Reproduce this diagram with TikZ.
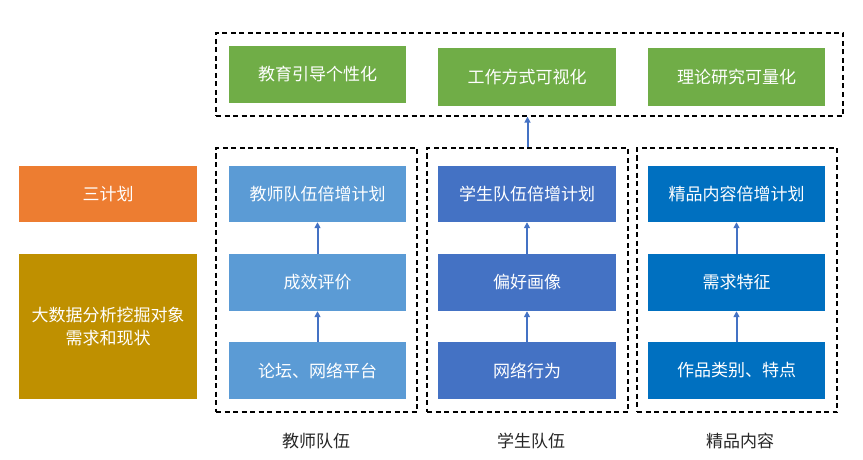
\documentclass[tikz,border=0pt]{standalone}
\usepackage{fontspec}
\setmainfont{Noto Sans CJK SC}
\usetikzlibrary{arrows.meta}
\definecolor{cgreen}{HTML}{70AD47}
\definecolor{corange}{HTML}{ED7D31}
\definecolor{cgold}{HTML}{BF9000}
\definecolor{cblueA}{HTML}{5B9BD5}
\definecolor{cblueB}{HTML}{4472C4}
\definecolor{cblueC}{HTML}{0070C0}
\definecolor{carrow}{HTML}{4472C4}
\begin{document}
\begin{tikzpicture}[x=1pt,y=-1pt,
  box/.style={rectangle, inner sep=0pt, text=white, align=center,
    font=\fontsize{17}{23}\selectfont},
  dashbox/.style={rectangle, draw=black, line width=1.3pt, dash pattern=on 5pt off 3.5pt, inner sep=0pt},
  upar/.style={draw=carrow, line width=2pt, -{Triangle[length=6pt,width=6pt]}},
  lbl/.style={text=black!85, font=\fontsize{17}{20}\selectfont}]
\useasboundingbox (0,0) rectangle (863,460);
% top region
\node[dashbox, minimum width=627pt, minimum height=83pt] (DT) at (529.5,74.5) {};
\node[box, fill=cgreen, minimum width=177pt, minimum height=57pt] (G1) at (317.5,74.5) {教育引导个性化};
\node[box, fill=cgreen, minimum width=178pt, minimum height=58pt] (G2) at (527,77) {工作方式可视化};
\node[box, fill=cgreen, minimum width=177pt, minimum height=58pt] (G3) at (736.5,77) {理论研究可量化};
% left column
\node[box, fill=corange, minimum width=178pt, minimum height=56pt] (O) at (108,194) {三计划};
\node[box, fill=cgold, minimum width=178pt, minimum height=145pt] (Y) at (108,326.5) {大数据分析挖掘对象\\需求和现状};
% dashed columns
\node[dashbox, minimum width=201pt, minimum height=264pt] (D1) at (316.5,280) {};
\node[dashbox, minimum width=201pt, minimum height=264pt] (D2) at (527.5,280) {};
\node[dashbox, minimum width=200pt, minimum height=264pt] (D3) at (737,280) {};
% column 1
\node[box, fill=cblueA, minimum width=177pt, minimum height=56pt] (A1) at (317.5,194) {教师队伍倍增计划};
\node[box, fill=cblueA, minimum width=177pt, minimum height=57pt] (A2) at (317.5,282.5) {成效评价};
\node[box, fill=cblueA, minimum width=177pt, minimum height=57pt] (A3) at (317.5,370.5) {论坛、网络平台};
% column 2
\node[box, fill=cblueB, minimum width=178pt, minimum height=56pt] (B1) at (527,194) {学生队伍倍增计划};
\node[box, fill=cblueB, minimum width=178pt, minimum height=57pt] (B2) at (527,282.5) {偏好画像};
\node[box, fill=cblueB, minimum width=178pt, minimum height=57pt] (B3) at (527,370.5) {网络行为};
% column 3
\node[box, fill=cblueC, minimum width=177pt, minimum height=56pt] (C1) at (736.5,194) {精品内容倍增计划};
\node[box, fill=cblueC, minimum width=177pt, minimum height=57pt] (C2) at (736.5,282.5) {需求特征};
\node[box, fill=cblueC, minimum width=177pt, minimum height=57pt] (C3) at (736.5,370.5) {作品类别、特点};
% labels
\node[lbl] (L1) at (316,441) {教师队伍};
\node[lbl] (L2) at (531,441) {学生队伍};
\node[lbl] (L3) at (740,441) {精品内容};
% arrows
\draw[upar] (A3.north) -- (A2.south);
\draw[upar] (A2.north) -- (A1.south);
\draw[upar] (B3.north) -- (B2.south);
\draw[upar] (B2.north) -- (B1.south);
\draw[upar] (C3.north) -- (C2.south);
\draw[upar] (C2.north) -- (C1.south);
\draw[upar] (D2.north) -- (DT.south -| D2.north);
\end{tikzpicture}
\end{document}
